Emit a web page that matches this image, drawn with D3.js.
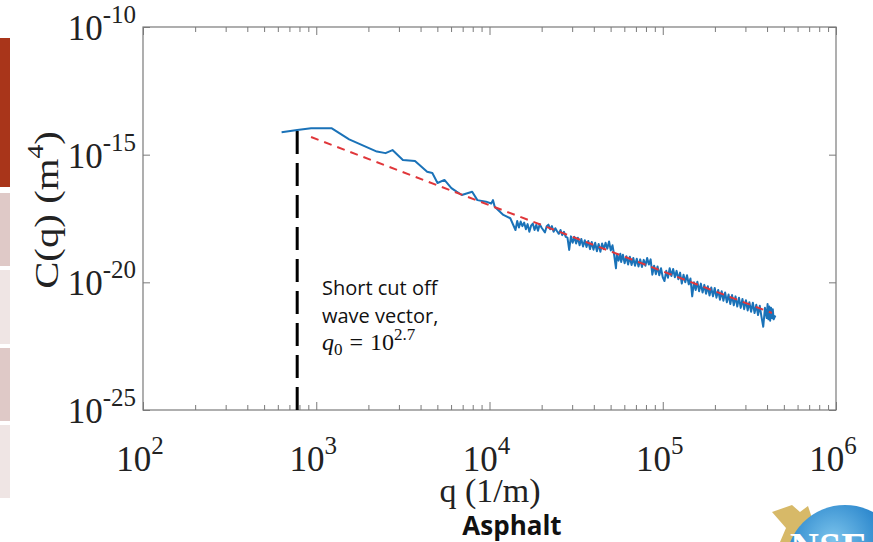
<!DOCTYPE html>
<html>
<head>
<meta charset="utf-8">
<script src="https://cdn.jsdelivr.net/npm/d3@7"></script>
<style>
  html, body { margin: 0; padding: 0; background: #fff; }
  svg { display: block; }
</style>
</head>
<body>
<svg id="chart" width="873" height="542"></svg>
<script>
// measured spectrum, log10 q (1/m) and log10 C(q) (m^4)
var logQ = [2.80, 2.89, 2.97, 3.09, 3.19, 3.35, 3.40, 3.44, 3.50, 3.57,
  3.64, 3.67, 3.70, 3.74, 3.78, 3.81, 3.84, 3.90, 3.93, 3.98,
  4.01, 4.02, 4.03, 4.08, 4.12, 4.15,
  4.16, 4.17, 4.18, 4.19, 4.20, 4.21, 4.22, 4.23, 4.24, 4.25,
  4.26, 4.27, 4.28, 4.29, 4.30, 4.31, 4.32, 4.33, 4.34, 4.35,
  4.36, 4.37, 4.38, 4.39, 4.40, 4.41, 4.42, 4.43, 4.44, 4.45,
  4.46, 4.47, 4.48, 4.49, 4.50, 4.51, 4.52, 4.53, 4.54, 4.55,
  4.56, 4.57, 4.58, 4.59, 4.60, 4.61, 4.62, 4.63, 4.64, 4.65,
  4.66, 4.67, 4.68, 4.69, 4.70, 4.71, 4.72, 4.73, 4.735, 4.745,
  4.755, 4.76, 4.77, 4.78, 4.79, 4.80, 4.81, 4.82, 4.83, 4.84,
  4.85, 4.86, 4.87, 4.88, 4.89, 4.90, 4.91, 4.92, 4.93, 4.94,
  4.95, 4.96, 4.97, 4.98, 4.99, 5.00, 5.01, 5.02, 5.03, 5.04,
  5.05, 5.06, 5.07, 5.08, 5.09, 5.10, 5.11, 5.12, 5.13, 5.14,
  5.15, 5.16, 5.17, 5.18, 5.19, 5.20, 5.21, 5.22, 5.23, 5.24,
  5.25, 5.26, 5.27, 5.28, 5.29, 5.30, 5.31, 5.32, 5.33, 5.34,
  5.35, 5.36, 5.37, 5.38, 5.39, 5.40, 5.41, 5.42, 5.43, 5.44,
  5.45, 5.46, 5.47, 5.48, 5.49, 5.50, 5.51, 5.52, 5.53, 5.54,
  5.55, 5.56, 5.57, 5.58, 5.59, 5.60, 5.605, 5.61, 5.615, 5.62,
  5.625, 5.63, 5.635, 5.64, 5.65];
var logC = [-14.12, -14.03, -13.97, -13.97, -14.40, -14.88, -14.94, -14.82, -15.21, -15.25,
  -15.67, -15.72, -16.11, -15.99, -16.31, -16.45, -16.58, -16.45, -16.78, -16.84,
  -16.91, -16.78, -17.04, -17.36, -17.49, -17.95,
  -17.60, -17.85, -17.62, -17.80, -17.66, -17.92, -17.72, -18.02, -17.78, -17.70,
  -17.95, -17.75, -17.98, -17.72, -17.85, -17.95, -18.05, -17.80, -17.74, -17.92,
  -17.80, -18.02, -17.88, -18.00, -18.10, -17.95, -18.15, -18.02, -18.22, -18.25,
  -18.73, -18.20, -18.45, -18.22, -18.48, -18.25, -18.55, -18.30, -18.60, -18.35,
  -18.62, -18.38, -18.70, -18.42, -18.72, -18.45, -18.78, -18.50, -18.80, -18.48,
  -18.70, -18.45, -18.68, -18.40, -18.75, -18.55, -18.95, -19.45, -18.90, -19.15,
  -18.88, -19.20, -18.92, -19.25, -18.98, -19.30, -19.00, -19.32, -19.05, -19.35,
  -19.08, -19.38, -19.10, -19.40, -19.12, -19.35, -19.05, -19.30, -19.10, -19.70,
  -19.35, -19.68, -19.38, -19.72, -19.45, -19.80, -19.95, -19.55, -19.82, -19.45,
  -19.75, -19.48, -19.80, -19.55, -19.88, -19.62, -20.05, -19.70, -20.00, -19.72,
  -20.08, -19.85, -20.55, -20.00, -20.30, -19.98, -20.35, -20.05, -20.40, -20.10,
  -20.45, -20.15, -20.52, -20.20, -20.55, -20.22, -20.60, -20.30, -20.68, -20.35,
  -20.72, -20.40, -20.78, -20.48, -20.85, -20.50, -20.90, -20.55, -20.95, -20.60,
  -21.00, -20.65, -21.05, -20.70, -21.10, -20.78, -21.15, -20.80, -21.20, -20.88,
  -21.28, -20.92, -21.35, -21.74, -21.00, -21.40, -20.85, -21.45, -20.95, -21.50,
  -21.00, -21.40, -21.05, -21.45, -21.30];

// power-law fit (red dashed), end points
var fitQ = [2.97, 5.63];
var fitC = [-14.31, -21.20];

// short cut-off marker (black dashed)
var cutQ = [2.89, 2.89];
var cutC = [-25, -13.96];

var xDecades = [2, 3, 4, 5, 6];
var yDecades = [-10, -15, -20, -25];

var svg = d3.select("#chart");
var pL = 143, pR = 836, pT = 27, pB = 410;

var x = d3.scaleLog().domain([1e2, 1e6]).range([pL, pR]);
var y = d3.scaleLog().domain([1e-25, 1e-10]).range([pB, pT]);

// left slide strip
var strip = [[38, 187, "#a9351a"], [193, 266, "#dfc9c7"], [270, 344, "#efe5e4"],
  [348, 421, "#dfc9c7"], [425, 498, "#efe5e4"]];
svg.selectAll("rect.strip").data(strip).enter().append("rect")
  .attr("class", "strip")
  .attr("x", 0).attr("width", 10)
  .attr("y", function(d) { return d[0]; })
  .attr("height", function(d) { return d[1] - d[0]; })
  .attr("fill", function(d) { return d[2]; });

var plot = svg.append("g");

var majorX = xDecades.map(function(e) { return Math.pow(10, e); });
var minorX = [];
xDecades.slice(0, -1).forEach(function(e) {
  for (var k = 2; k < 10; k++) minorX.push(k * Math.pow(10, e));
});
var majorY = yDecades.map(function(e) { return Math.pow(10, e); });

function ticks(axis, vals, len, tr) {
  var g = plot.append("g").attr("transform", tr)
    .call(axis.tickValues(vals).tickSize(-len).tickFormat(""));
  g.select(".domain").remove();
  g.selectAll("line").attr("stroke", "#7a7a7a");
}
ticks(d3.axisBottom(x), majorX, 8, "translate(0," + pB + ")");
ticks(d3.axisBottom(x), minorX, 5, "translate(0," + pB + ")");
ticks(d3.axisTop(x), majorX, 8, "translate(0," + pT + ")");
ticks(d3.axisTop(x), minorX, 5, "translate(0," + pT + ")");
ticks(d3.axisLeft(y), majorY, 7, "translate(" + pL + ",0)");
ticks(d3.axisRight(y), majorY, 7, "translate(" + pR + ",0)");

plot.append("rect")
  .attr("x", pL).attr("y", pT)
  .attr("width", pR - pL).attr("height", pB - pT)
  .attr("fill", "none").attr("stroke", "#7a7a7a").attr("stroke-width", 1.2);

var line = d3.line()
  .x(function(d) { return x(Math.pow(10, d[0])); })
  .y(function(d) { return y(Math.pow(10, d[1])); });

plot.append("path")
  .datum(d3.zip(cutQ, cutC))
  .attr("d", line)
  .attr("fill", "none").attr("stroke", "#000")
  .attr("stroke-width", 3).attr("stroke-dasharray", "23,9");

plot.append("path")
  .datum(d3.zip(logQ, logC))
  .attr("d", line)
  .attr("fill", "none").attr("stroke", "#1a72b8")
  .attr("stroke-width", 2).attr("stroke-linejoin", "round");

plot.append("path")
  .datum(d3.zip(fitQ, fitC))
  .attr("d", line)
  .attr("fill", "none").attr("stroke", "#e0363a")
  .attr("stroke-width", 2).attr("stroke-dasharray", "8,6");

// tick labels
var serif = "'Liberation Serif', 'Times New Roman', serif";
function powLabel(sel, e) {
  sel.append("tspan").text("10");
  sel.append("tspan").attr("dy", -17).attr("font-size", 25).text(e);
}
xDecades.forEach(function(e) {
  var t = svg.append("text")
    .attr("x", x(Math.pow(10, e)) - 3).attr("y", 471)
    .attr("text-anchor", "middle")
    .attr("font-family", serif).attr("font-size", 35).attr("fill", "#222");
  powLabel(t, e);
});
yDecades.forEach(function(e) {
  var t = svg.append("text")
    .attr("x", 136).attr("y", y(Math.pow(10, e)) + 13)
    .attr("text-anchor", "end")
    .attr("font-family", serif).attr("font-size", 35).attr("fill", "#222");
  powLabel(t, e);
});

svg.append("text")
  .attr("x", 490).attr("y", 502)
  .attr("text-anchor", "middle")
  .attr("font-family", serif).attr("font-size", 34).attr("fill", "#222")
  .text("q (1/m)");

var yt = svg.append("text")
  .attr("transform", "translate(58,210) rotate(-90) scale(1.2,1)")
  .attr("text-anchor", "middle")
  .attr("font-family", serif).attr("font-size", 34).attr("fill", "#222");
yt.append("tspan").text("C(q) (m");
yt.append("tspan").attr("dy", -15).attr("font-size", 23).text("4");
yt.append("tspan").attr("dy", 15).text(")");

// annotation
var sans = "'Open Sans', 'Noto Sans', sans-serif";
svg.append("text").attr("x", 322).attr("y", 295)
  .attr("font-family", sans).attr("font-size", 20).attr("fill", "#111")
  .text("Short cut off");
svg.append("text").attr("x", 322).attr("y", 323)
  .attr("font-family", sans).attr("font-size", 20).attr("fill", "#111")
  .text("wave vector,");
var qt = svg.append("text").attr("x", 322).attr("y", 350)
  .attr("font-family", serif).attr("font-size", 24).attr("fill", "#111");
qt.append("tspan").attr("font-style", "italic").text("q");
qt.append("tspan").attr("dy", 5).attr("font-size", 17).text("0");
qt.append("tspan").attr("dy", -5).attr("dx", 7).text("=");
qt.append("tspan").attr("dx", 7).text("10");
qt.append("tspan").attr("dy", -10).attr("font-size", 17).text("2.7");

svg.append("text")
  .attr("x", 512).attr("y", 535)
  .attr("text-anchor", "middle")
  .attr("font-family", sans).attr("font-weight", "bold")
  .attr("font-size", 26).attr("fill", "#111")
  .text("Asphalt");

// logo corner
var defs = svg.append("defs");
var rg = defs.append("radialGradient").attr("id", "globe")
  .attr("cx", "40%").attr("cy", "30%").attr("r", "70%");
rg.append("stop").attr("offset", "0%").attr("stop-color", "#7cc4ec");
rg.append("stop").attr("offset", "60%").attr("stop-color", "#2a86cc");
rg.append("stop").attr("offset", "100%").attr("stop-color", "#0d4f94");
svg.append("path")
  .attr("d", "M772,512 L792,505 L800,512 L808,506 L812,518 L800,526 L806,542 L780,542 L786,528 Z")
  .attr("fill", "#d7b968");
svg.append("circle").attr("cx", 845).attr("cy", 564).attr("r", 59)
  .attr("fill", "url(#globe)");
svg.append("text").attr("x", 790).attr("y", 560)
  .attr("font-family", serif).attr("font-weight", "bold")
  .attr("font-size", 40).attr("fill", "#fff")
  .text("NSF");
</script>
</body>
</html>
